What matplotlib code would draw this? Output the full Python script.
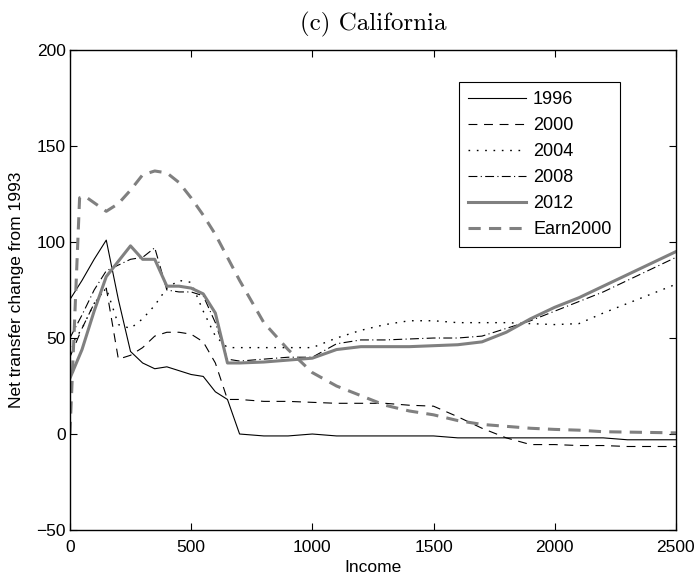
import matplotlib
matplotlib.use('Agg')
import matplotlib.pyplot as plt

plt.rcParams['font.family'] = ['Liberation Sans', 'DejaVu Sans']

# income grid shared by the yearly series
income = [0, 50, 100, 150, 200, 250, 300, 350, 400, 450, 500, 550, 600, 650, 700,
          800, 900, 1000, 1100, 1200, 1300, 1400, 1500, 1600, 1700, 1800, 1900,
          2000, 2100, 2200, 2300, 2400, 2500]

y1996 = [70, 80, 91, 101, 70, 43, 37, 34, 35, 33, 31, 30, 22, 18, 0,
         -1, -1, 0, -1, -1, -1, -1, -1, -2, -2, -2, -2,
         -2, -2, -2, -3, -3, -3]
y2000 = [40, 55, 68, 76, 39, 41, 45, 51, 53, 53, 52, 48, 37, 18, 18,
         17, 17, 16.5, 16, 16, 16, 15, 14.5, 9, 3, -2, -5.5,
         -5.5, -6, -6, -6.5, -6.5, -6.5]
y2004 = [45, 55, 68, 76, 57, 55, 60, 67, 76, 80, 79, 64, 51, 45, 45,
         45, 45, 45, 50, 54, 57, 59, 59, 58, 58, 58, 57.5,
         57, 57.5, 63, 68, 73, 78]
y2008 = [50, 62, 75, 85, 88, 91, 92, 97, 75, 74, 74, 72, 58, 39, 38,
         39, 40, 40, 47, 49, 49, 49.5, 50, 50, 51, 55, 59,
         64, 69, 74, 80, 86, 92]
y2012 = [29, 44, 64, 82, 90, 98, 91, 91, 77, 77, 76, 73, 63, 37, 37,
         37.5, 38.5, 39.5, 44, 45.5, 45.5, 45.5, 46, 46.5, 48, 53, 60,
         66, 71, 77, 83, 89, 95]

earn_income = [0, 10, 40, 60, 150, 200, 250, 300, 350, 400, 450, 500, 550, 600, 650,
               700, 800, 900, 1000, 1100, 1200, 1300, 1400, 1500, 1600, 1700, 1800,
               1900, 2000, 2100, 2200, 2300, 2400, 2500]
earn2000 = [0, 30, 123, 124, 116, 120, 127, 135, 137, 136, 131, 123, 114, 104, 92,
            80, 58, 44, 32, 25, 20, 15, 12, 10, 7, 5, 4,
            3, 2.4, 2, 1.2, 1, 0.8, 0.6]

gray = '#808080'

fig = plt.figure(figsize=(6.99, 5.79), dpi=100)
ax = fig.add_axes([0.100, 0.0846, 0.867, 0.829])

ax.plot(income, y1996, color='k', lw=0.8, label='1996')
ax.plot(income, y2000, color='k', lw=0.8, dashes=(8, 6), label='2000')
ax.plot(income, y2004, color='k', lw=1.0, dashes=(1.2, 4.8), label='2004')
ax.plot(income, y2008, color='k', lw=0.8, dashes=(8, 3, 1, 3), label='2008')
ax.plot(income, y2012, color=gray, lw=2.2, label='2012')
ax.plot(earn_income, earn2000, color=gray, lw=2.2, dashes=(4, 2.7), label='Earn2000')

ax.set_xlim(0, 2500)
ax.set_ylim(-50, 200)
ax.set_xticks([0, 500, 1000, 1500, 2000, 2500])
ax.set_yticks([-50, 0, 50, 100, 150, 200])
ax.tick_params(direction='in', top=True, right=True, length=5, width=0.8,
               labelsize=12.5)
ax.tick_params(axis='x', pad=7)
ax.tick_params(axis='y', pad=3)
for s in ax.spines.values():
    s.set_linewidth(1.0)

ax.set_xlabel('Income', fontsize=12.5, labelpad=4)
ax.set_ylabel('Net transfer change from 1993', fontsize=12.5, labelpad=9)
ax.set_title('(c) California', fontfamily='cmr10', fontsize=18, pad=14)

leg = ax.legend(loc='upper left', bbox_to_anchor=(0.642, 0.933), fontsize=13,
                handlelength=3.2, labelspacing=0.5, borderpad=0.5,
                handletextpad=0.4, fancybox=False, framealpha=1,
                edgecolor='k', borderaxespad=0)
leg.get_frame().set_linewidth(0.8)

fig.savefig('out.png', dpi=100)
